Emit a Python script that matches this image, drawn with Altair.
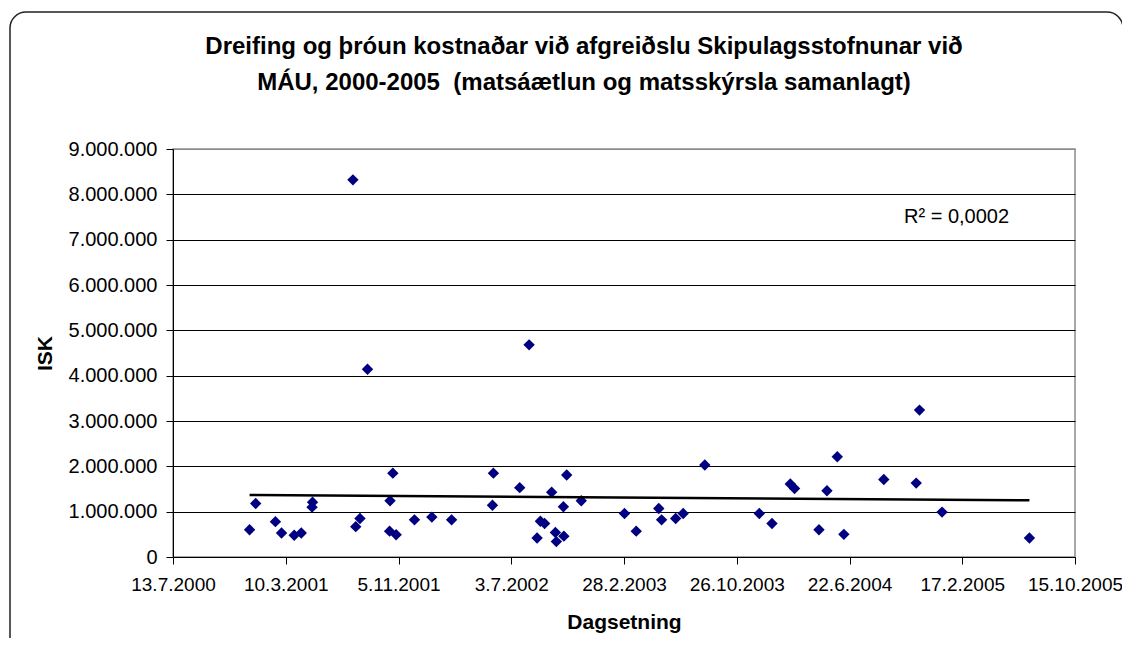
import altair as alt
import pandas as pd
from datetime import date

# ---- data ----
dates = [
    "2000-12-23", "2001-01-05", "2001-02-16", "2001-03-01", "2001-03-28", "2001-04-12",
    "2001-05-06", "2001-05-05", "2001-07-31", "2001-08-06", "2001-08-15", "2001-08-31",
    "2001-10-18", "2001-10-17", "2001-10-24", "2001-10-31", "2001-12-09", "2002-01-15",
    "2002-02-26", "2002-05-24", "2002-05-26", "2002-07-21", "2002-08-10", "2002-08-27",
    "2002-09-03", "2002-09-12", "2002-09-27", "2002-10-05", "2002-10-07", "2002-10-22",
    "2002-10-23", "2002-10-29", "2002-11-29", "2003-03-01", "2003-03-26", "2003-05-13",
    "2003-05-19", "2003-06-18", "2003-07-04", "2003-08-19", "2003-12-13", "2004-01-09",
    "2004-02-17", "2004-02-26", "2004-04-18", "2004-05-05", "2004-05-27", "2004-06-10",
    "2004-09-03", "2004-11-11", "2004-11-18", "2005-01-05", "2005-07-10",
]
values = [
    600000, 1180000, 780000, 530000, 480000, 530000,
    1210000, 1100000, 8320000, 670000, 850000, 4140000,
    1240000, 570000, 1850000, 490000, 820000, 880000,
    820000, 1140000, 1850000, 1530000, 4680000, 420000,
    790000, 740000, 1430000, 540000, 340000, 1110000,
    460000, 1810000, 1240000, 960000, 570000, 1070000,
    820000, 850000, 960000, 2030000, 960000, 740000,
    1610000, 1510000, 600000, 1460000, 2210000, 500000,
    1710000, 1630000, 3240000, 990000, 420000,
]
x_tick_dates = ["2000-07-13", "2001-03-10", "2001-11-05", "2002-07-03", "2003-02-28",
                "2003-10-26", "2004-06-22", "2005-02-17", "2005-10-15"]
y_ticks = [0, 1000000, 2000000, 3000000, 4000000, 5000000, 6000000, 7000000, 8000000, 9000000]
title_line1 = "Dreifing og þróun kostnaðar við afgreiðslu Skipulagsstofnunar við"
title_line2 = "MÁU, 2000-2005\u00a0 (matsáætlun og matsskýrsla samanlagt)"
r2_label = "R² = 0,0002"
x_title = "Dagsetning"
y_title = "ISK"

FONT = "Liberation Sans"

def dt(s):
    d = date.fromisoformat(s)
    return alt.DateTime(year=d.year, month=d.month, date=d.day, utc=True)

df = pd.DataFrame({"date": dates, "value": values})

x_scale = alt.Scale(type="utc", domain=[dt(x_tick_dates[0]), dt(x_tick_dates[-1])], nice=False)
y_scale = alt.Scale(domain=[0, 9000000], nice=False)

x_axis = alt.Axis(
    values=[dt(s) for s in x_tick_dates],
    labelExpr="utcFormat(datum.value, '%-d.%-m.%Y')",
    labelFlush=False, labelOverlap=False, labelBound=False, grid=False,
    tickSize=7, tickColor="black", domainColor="black",
    labelFont=FONT, labelFontSize=19, labelColor="black", labelPadding=11,
    titleFont=FONT, titleFontSize=21, titleFontWeight="bold", titleColor="black",
    titlePadding=17,
)
y_axis = alt.Axis(
    values=y_ticks,
    labelExpr="replace(format(datum.value, ','), regexp(',', 'g'), '.')",
    tickSize=7, tickColor="black", domainColor="black",
    grid=True,
    gridColor={"condition": {"test": "datum.value === 9000000", "value": "#8c8c8c"}, "value": "black"},
    gridWidth=1,
    labelFont=FONT, labelFontSize=20, labelColor="black", labelPadding=9,
    titleFont=FONT, titleFontSize=21, titleFontWeight="bold", titleColor="black",
    titlePadding=13,
)

frame = alt.Chart(alt.Data(values=[{}])).mark_rect(
    fill="transparent", stroke="#222222", strokeWidth=1.5, cornerRadius=16
).encode(
    x=alt.value(-163), x2=alt.value(950), y=alt.value(-137), y2=alt.value(530)
)

title1 = alt.Chart(alt.Data(values=[{}])).mark_text(
    align="center", baseline="middle", font=FONT, fontSize=24, fontWeight="bold", color="black"
).encode(x=alt.value(411), y=alt.value(-102), text=alt.value(title_line1))

title2 = alt.Chart(alt.Data(values=[{}])).mark_text(
    align="center", baseline="middle", font=FONT, fontSize=24, fontWeight="bold", color="black"
).encode(x=alt.value(411), y=alt.value(-66), text=alt.value(title_line2))

points = alt.Chart(df).mark_point(
    shape="diamond", filled=True, color="#000080", size=130, opacity=1
).encode(
    x=alt.X("date:T", scale=x_scale, axis=x_axis, title=x_title),
    y=alt.Y("value:Q", scale=y_scale, axis=y_axis, title=y_title),
)

trend = alt.Chart(df).transform_calculate(
    ts="time(toDate(datum.date))"
).transform_regression("ts", "value").mark_line(
    color="black", strokeWidth=2.5
).encode(
    x=alt.X("ts:T", scale=x_scale, axis=x_axis, title=x_title),
    y=alt.Y("value:Q", scale=y_scale, axis=y_axis, title=y_title),
)

r2 = alt.Chart(alt.Data(values=[{}])).mark_text(
    align="left", baseline="middle", font=FONT, fontSize=20, color="black"
).encode(
    x=alt.value(731), y=alt.value(68), text=alt.value(r2_label)
)

chart = alt.layer(frame, title1, title2, points, trend, r2).properties(
    width=902,
    height=408,
    autosize=alt.AutoSizeParams(type="none"),
    padding={"left": 165, "top": 141, "right": 47, "bottom": 81},
).configure_view(stroke="#8c8c8c", strokeWidth=1.5)

chart.save("out.html", embed_options={"renderer": "svg", "actions": False})
